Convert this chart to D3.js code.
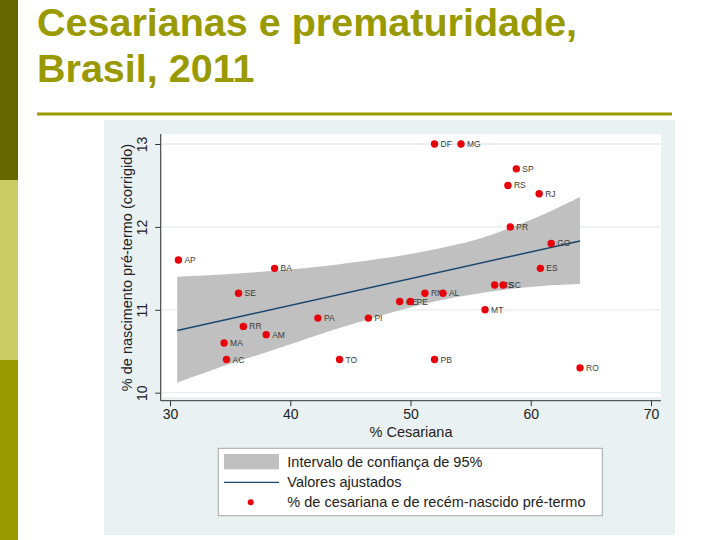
<!DOCTYPE html>
<html>
<head>
<meta charset="utf-8">
<script src="https://cdn.jsdelivr.net/npm/d3@7"></script>
<style>
  html, body { margin: 0; padding: 0; background: #ffffff; }
  svg { display: block; }
</style>
</head>
<body>
<svg id="chart" width="720" height="540"></svg>
<script>
// ---- Data ----
const states = ["DF","MG","SP","RS","RJ","PR","GO","ES","MS","SC","RN","AL","CE","PE","MT","AP","BA","SE","PA","PI","RR","AM","MA","AC","TO","PB","RO"];
const cesarean = [52.0,54.2,58.8,58.1,60.7,58.3,61.7,60.8,57.0,57.7,51.2,52.7,49.1,50.0,56.2,30.7,38.7,35.7,42.3,46.5,36.1,38.0,34.5,34.7,44.1,52.0,64.1];
const preterm  = [13.0,13.0,12.7,12.5,12.4,12.0,11.8,11.5,11.3,11.3,11.2,11.2,11.1,11.1,11.0,11.6,11.5,11.2,10.9,10.9,10.8,10.7,10.6,10.4,10.4,10.4,10.3];

// 95% confidence band and fitted line
const ciX     = [30.6, 34.65, 38.7, 44.1, 49.5, 53.0, 55.8, 58.3, 61.2, 64.1];
const ciUpper = [11.40, 11.43, 11.47, 11.55, 11.66, 11.76, 11.86, 11.99, 12.16, 12.36];
const ciLower = [10.12, 10.33, 10.52, 10.78, 11.01, 11.13, 11.20, 11.25, 11.29, 11.31];
const fitX = [30.6, 64.1];
const fitY = [10.75, 11.83];

const xTicks = [30, 40, 50, 60, 70];
const yTicks = [10, 11, 12, 13];

const titleLines = ["Cesarianas e prematuridade,", "Brasil, 2011"];
const xTitle = "% Cesariana";
const yTitle = "% de nascimento pré-termo (corrigido)";
const legendLabels = ["Intervalo de confiança de 95%", "Valores ajustados", "% de cesariana e de recém-nascido pré-termo"];

// ---- Drawing ----
const svg = d3.select("#chart");
const FONT = "'Liberation Sans', Arial, Helvetica, sans-serif";

// Left decorative sidebar
const sideColors = ["#666600", "#cccc66", "#999900"];
svg.selectAll("rect.side").data(sideColors).enter().append("rect")
  .attr("x", 0).attr("y", (d, i) => i * 180).attr("width", 18).attr("height", 180)
  .attr("fill", d => d);

// Title
svg.selectAll("text.title").data(titleLines).enter().append("text")
  .attr("x", 37).attr("y", (d, i) => 35.5 + i * 46.5)
  .attr("font-family", FONT).attr("font-weight", "bold").attr("font-size", 39.5)
  .attr("fill", "#999900").text(d => d);

svg.append("rect").attr("x", 37).attr("y", 112.5).attr("width", 635).attr("height", 3).attr("fill", "#999900");

// Chart panel
svg.append("rect").attr("x", 104).attr("y", 120).attr("width", 571).attr("height", 415).attr("fill", "#eaf1f3");
svg.append("rect").attr("x", 162).attr("y", 134.3).attr("width", 499).attr("height", 262.7).attr("fill", "#ffffff");

const x = d3.scaleLinear().domain([30, 70]).range([170, 651]);
const y = d3.scaleLinear().domain([10, 13]).range([392.7, 144]);

// Grid lines
svg.selectAll("line.grid").data(yTicks).enter().append("line")
  .attr("x1", 162).attr("x2", 661).attr("y1", d => y(d)).attr("y2", d => y(d))
  .attr("stroke", "#e4ecef").attr("stroke-width", 1.3);

// Confidence band
const band = ciX.map((v, i) => ({x: v, lo: ciLower[i], hi: ciUpper[i]}));
svg.append("path").datum(band)
  .attr("d", d3.area().x(d => x(d.x)).y0(d => y(d.lo)).y1(d => y(d.hi)).curve(d3.curveCatmullRom))
  .attr("fill", "#c0c0c0");

// Fitted line
svg.append("path").datum(fitX.map((v, i) => ({x: v, y: fitY[i]})))
  .attr("d", d3.line().x(d => x(d.x)).y(d => y(d.y)))
  .attr("fill", "none").attr("stroke", "#1a476f").attr("stroke-width", 1.5);

// Points
const pts = states.map((s, i) => ({s, x: cesarean[i], y: preterm[i]}));
svg.selectAll("text.lab").data(pts).enter().append("text")
  .attr("x", d => x(d.x) + 6).attr("y", d => y(d.y) + 3)
  .attr("font-family", FONT).attr("font-size", 8.5).attr("fill", "#3a3a3a")
  .text(d => d.s);
svg.selectAll("circle.pt").data(pts).enter().append("circle")
  .attr("cx", d => x(d.x)).attr("cy", d => y(d.y)).attr("r", 3.7)
  .attr("fill", "#e8000b");

// Axes
const xAxis = svg.append("g").attr("transform", "translate(0,400.7)")
  .call(d3.axisBottom(x).tickValues(xTicks).tickSize(5.5).tickPadding(3).tickFormat(d3.format("d")));
xAxis.select(".domain").attr("d", "M160.7,0H661");
xAxis.selectAll("line").attr("stroke", "#333");
xAxis.select(".domain").attr("stroke", "#333");
xAxis.selectAll("text").attr("font-family", FONT).attr("font-size", 14).attr("fill", "#222").attr("dy", "0.71em");

const yAxis = svg.append("g").attr("transform", "translate(160.7,0)")
  .call(d3.axisLeft(y).tickValues(yTicks).tickSize(5.5).tickFormat(d3.format("d")));
yAxis.select(".domain").attr("d", "M0,134H0V400.7").attr("stroke", "#333");
yAxis.selectAll("line").attr("stroke", "#333");
yAxis.selectAll("text")
  .attr("font-family", FONT).attr("font-size", 14).attr("fill", "#222")
  .attr("x", null).attr("dy", null)
  .attr("text-anchor", "middle")
  .attr("transform", "translate(-13.5,0) rotate(-90)");

// Axis titles
svg.append("text").attr("x", 411).attr("y", 437)
  .attr("text-anchor", "middle").attr("font-family", FONT).attr("font-size", 14.5).attr("fill", "#222")
  .text(xTitle);
svg.append("text").attr("transform", "translate(132,267.5) rotate(-90)")
  .attr("text-anchor", "middle").attr("font-family", FONT).attr("font-size", 14.5).attr("fill", "#222")
  .text(yTitle);

// Legend
const lg = svg.append("g");
lg.append("rect").attr("x", 218.3).attr("y", 448.3).attr("width", 384).attr("height", 67.4)
  .attr("fill", "#ffffff").attr("stroke", "#a8a8a8").attr("stroke-width", 1);
lg.append("rect").attr("x", 224).attr("y", 454).attr("width", 55).attr("height", 15.3).attr("fill", "#c0c0c0");
lg.append("line").attr("x1", 224).attr("x2", 279).attr("y1", 482.3).attr("y2", 482.3)
  .attr("stroke", "#1a476f").attr("stroke-width", 1.3);
lg.append("circle").attr("cx", 250.7).attr("cy", 502.3).attr("r", 3).attr("fill", "#e8000b");
lg.selectAll("text").data(legendLabels).enter().append("text")
  .attr("x", 287.3).attr("y", (d, i) => 467 + i * 19.9)
  .attr("font-family", FONT).attr("font-size", 14.5).attr("fill", "#222")
  .text(d => d);
</script>
</body>
</html>
